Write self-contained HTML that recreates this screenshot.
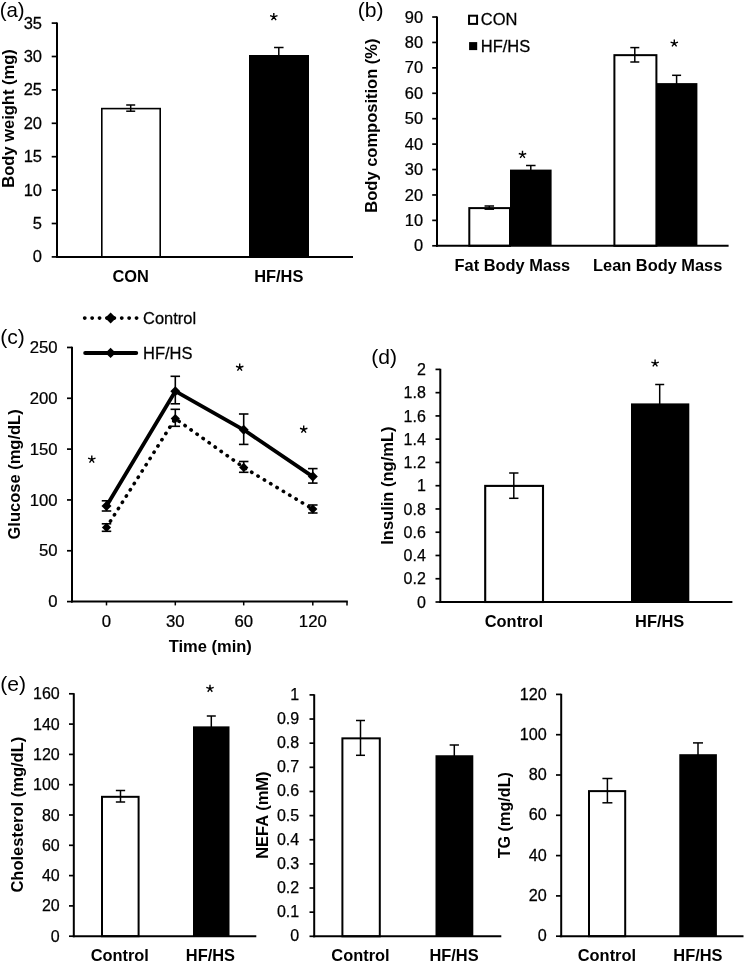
<!DOCTYPE html>
<html><head><meta charset="utf-8"><title>Figure</title>
<style>
html,body{margin:0;padding:0;background:#fff;}
body{width:745px;height:963px;overflow:hidden;font-family:"Liberation Sans",sans-serif;}
svg{display:block;will-change:transform;}
svg text{font-family:"Liberation Sans",sans-serif;}
</style></head><body>
<svg width="745" height="963" viewBox="0 0 745 963">
<rect width="745" height="963" fill="#fff"/>
<text x="-0.30" y="16.50" font-size="20.4" text-anchor="start" fill="#000">(a)</text>
<line x1="57.00" y1="22.50" x2="57.00" y2="257.90" stroke="#000" stroke-width="2" />
<line x1="51.70" y1="256.90" x2="57.00" y2="256.90" stroke="#000" stroke-width="1.7" />
<text font-size="16" text-anchor="end" stroke="#000" stroke-width="0.25" transform="translate(42.00 262.30) scale(1.03 1)" fill="#000">0</text>
<line x1="51.70" y1="223.50" x2="57.00" y2="223.50" stroke="#000" stroke-width="1.7" />
<text font-size="16" text-anchor="end" stroke="#000" stroke-width="0.25" transform="translate(42.00 228.90) scale(1.03 1)" fill="#000">5</text>
<line x1="51.70" y1="190.10" x2="57.00" y2="190.10" stroke="#000" stroke-width="1.7" />
<text font-size="16" text-anchor="end" stroke="#000" stroke-width="0.25" transform="translate(42.00 195.50) scale(1.03 1)" fill="#000">10</text>
<line x1="51.70" y1="156.70" x2="57.00" y2="156.70" stroke="#000" stroke-width="1.7" />
<text font-size="16" text-anchor="end" stroke="#000" stroke-width="0.25" transform="translate(42.00 162.10) scale(1.03 1)" fill="#000">15</text>
<line x1="51.70" y1="123.30" x2="57.00" y2="123.30" stroke="#000" stroke-width="1.7" />
<text font-size="16" text-anchor="end" stroke="#000" stroke-width="0.25" transform="translate(42.00 128.70) scale(1.03 1)" fill="#000">20</text>
<line x1="51.70" y1="89.90" x2="57.00" y2="89.90" stroke="#000" stroke-width="1.7" />
<text font-size="16" text-anchor="end" stroke="#000" stroke-width="0.25" transform="translate(42.00 95.30) scale(1.03 1)" fill="#000">25</text>
<line x1="51.70" y1="56.50" x2="57.00" y2="56.50" stroke="#000" stroke-width="1.7" />
<text font-size="16" text-anchor="end" stroke="#000" stroke-width="0.25" transform="translate(42.00 61.90) scale(1.03 1)" fill="#000">30</text>
<line x1="51.70" y1="23.10" x2="57.00" y2="23.10" stroke="#000" stroke-width="1.7" />
<text font-size="16" text-anchor="end" stroke="#000" stroke-width="0.25" transform="translate(42.00 28.50) scale(1.03 1)" fill="#000">35</text>
<rect x="101.80" y="108.60" width="58.40" height="148.30" fill="#fff" stroke="#000" stroke-width="1.6"/>
<rect x="249.00" y="55.00" width="60.00" height="201.90" fill="#000"/>
<line x1="56.00" y1="256.90" x2="353.00" y2="256.90" stroke="#000" stroke-width="2" />
<line x1="130.70" y1="105.00" x2="130.70" y2="111.20" stroke="#000" stroke-width="1.5" />
<line x1="126.20" y1="105.00" x2="135.20" y2="105.00" stroke="#000" stroke-width="1.5" />
<line x1="126.20" y1="111.20" x2="135.20" y2="111.20" stroke="#000" stroke-width="1.5" />
<line x1="278.80" y1="47.50" x2="278.80" y2="56.00" stroke="#000" stroke-width="1.5" />
<line x1="274.05" y1="47.50" x2="283.55" y2="47.50" stroke="#000" stroke-width="1.5" />
<path d="M273.80 16.90 L273.80 13.00 M273.80 16.90 L277.51 15.69 M273.80 16.90 L276.09 20.06 M273.80 16.90 L271.51 20.06 M273.80 16.90 L270.09 15.69" stroke="#000" stroke-width="1.4" fill="none"/>
<text x="130.70" y="281.80" font-size="16.4" text-anchor="middle" font-weight="bold" fill="#000">CON</text>
<text x="278.80" y="281.80" font-size="16.4" text-anchor="middle" font-weight="bold" fill="#000">HF/HS</text>
<text x="13.90" y="118.50" font-size="16.5" text-anchor="middle" font-weight="bold" transform="rotate(-90 13.90 118.50)" fill="#000">Body weight (mg)</text>
<text x="357.80" y="17.00" font-size="21.1" text-anchor="start" fill="#000">(b)</text>
<line x1="437.00" y1="16.42" x2="437.00" y2="246.80" stroke="#000" stroke-width="2" />
<line x1="432.20" y1="245.80" x2="437.00" y2="245.80" stroke="#000" stroke-width="1.7" />
<text font-size="16" text-anchor="end" stroke="#000" stroke-width="0.25" transform="translate(423.10 251.40) scale(1.025 1)" fill="#000">0</text>
<line x1="432.20" y1="220.38" x2="437.00" y2="220.38" stroke="#000" stroke-width="1.7" />
<text font-size="16" text-anchor="end" stroke="#000" stroke-width="0.25" transform="translate(423.10 225.98) scale(1.025 1)" fill="#000">10</text>
<line x1="432.20" y1="194.96" x2="437.00" y2="194.96" stroke="#000" stroke-width="1.7" />
<text font-size="16" text-anchor="end" stroke="#000" stroke-width="0.25" transform="translate(423.10 200.56) scale(1.025 1)" fill="#000">20</text>
<line x1="432.20" y1="169.54" x2="437.00" y2="169.54" stroke="#000" stroke-width="1.7" />
<text font-size="16" text-anchor="end" stroke="#000" stroke-width="0.25" transform="translate(423.10 175.14) scale(1.025 1)" fill="#000">30</text>
<line x1="432.20" y1="144.12" x2="437.00" y2="144.12" stroke="#000" stroke-width="1.7" />
<text font-size="16" text-anchor="end" stroke="#000" stroke-width="0.25" transform="translate(423.10 149.72) scale(1.025 1)" fill="#000">40</text>
<line x1="432.20" y1="118.70" x2="437.00" y2="118.70" stroke="#000" stroke-width="1.7" />
<text font-size="16" text-anchor="end" stroke="#000" stroke-width="0.25" transform="translate(423.10 124.30) scale(1.025 1)" fill="#000">50</text>
<line x1="432.20" y1="93.28" x2="437.00" y2="93.28" stroke="#000" stroke-width="1.7" />
<text font-size="16" text-anchor="end" stroke="#000" stroke-width="0.25" transform="translate(423.10 98.88) scale(1.025 1)" fill="#000">60</text>
<line x1="432.20" y1="67.86" x2="437.00" y2="67.86" stroke="#000" stroke-width="1.7" />
<text font-size="16" text-anchor="end" stroke="#000" stroke-width="0.25" transform="translate(423.10 73.46) scale(1.025 1)" fill="#000">70</text>
<line x1="432.20" y1="42.44" x2="437.00" y2="42.44" stroke="#000" stroke-width="1.7" />
<text font-size="16" text-anchor="end" stroke="#000" stroke-width="0.25" transform="translate(423.10 48.04) scale(1.025 1)" fill="#000">80</text>
<line x1="432.20" y1="17.02" x2="437.00" y2="17.02" stroke="#000" stroke-width="1.7" />
<text font-size="16" text-anchor="end" stroke="#000" stroke-width="0.25" transform="translate(423.10 22.62) scale(1.025 1)" fill="#000">90</text>
<rect x="469.30" y="208.10" width="40.70" height="37.70" fill="#fff" stroke="#000" stroke-width="2.0"/>
<rect x="510.00" y="169.60" width="41.60" height="76.20" fill="#000"/>
<rect x="614.40" y="55.15" width="42.00" height="190.65" fill="#fff" stroke="#000" stroke-width="2.0"/>
<rect x="656.40" y="83.11" width="41.00" height="162.69" fill="#000"/>
<line x1="436.00" y1="245.80" x2="728.60" y2="245.80" stroke="#000" stroke-width="2" />
<line x1="489.30" y1="206.00" x2="489.30" y2="209.20" stroke="#000" stroke-width="1.5" />
<line x1="484.55" y1="206.00" x2="494.05" y2="206.00" stroke="#000" stroke-width="1.5" />
<line x1="484.55" y1="209.20" x2="494.05" y2="209.20" stroke="#000" stroke-width="1.5" />
<line x1="530.80" y1="165.50" x2="530.80" y2="171.00" stroke="#000" stroke-width="1.5" />
<line x1="526.05" y1="165.50" x2="535.55" y2="165.50" stroke="#000" stroke-width="1.5" />
<line x1="634.80" y1="47.60" x2="634.80" y2="62.00" stroke="#000" stroke-width="1.5" />
<line x1="630.30" y1="47.60" x2="639.30" y2="47.60" stroke="#000" stroke-width="1.5" />
<line x1="630.30" y1="62.00" x2="639.30" y2="62.00" stroke="#000" stroke-width="1.5" />
<line x1="676.60" y1="75.30" x2="676.60" y2="84.00" stroke="#000" stroke-width="1.5" />
<line x1="672.10" y1="75.30" x2="681.10" y2="75.30" stroke="#000" stroke-width="1.5" />
<path d="M522.50 154.70 L522.50 150.80 M522.50 154.70 L526.21 153.49 M522.50 154.70 L524.79 157.86 M522.50 154.70 L520.21 157.86 M522.50 154.70 L518.79 153.49" stroke="#000" stroke-width="1.4" fill="none"/>
<path d="M674.30 43.30 L674.30 39.40 M674.30 43.30 L678.01 42.09 M674.30 43.30 L676.59 46.46 M674.30 43.30 L672.01 46.46 M674.30 43.30 L670.59 42.09" stroke="#000" stroke-width="1.4" fill="none"/>
<text x="512.40" y="270.70" font-size="16.4" text-anchor="middle" font-weight="bold" fill="#000">Fat Body Mass</text>
<text x="657.70" y="270.70" font-size="16.4" text-anchor="middle" font-weight="bold" fill="#000">Lean Body Mass</text>
<rect x="469.05" y="15.7" width="8" height="8.2" fill="#fff" stroke="#000" stroke-width="2"/>
<rect x="469.1" y="42.1" width="8.1" height="8" fill="#000"/>
<text font-size="16" text-anchor="start" stroke="#000" stroke-width="0.25" transform="translate(480.80 25.40) scale(1.03 1)" fill="#000">CON</text>
<text font-size="16" text-anchor="start" stroke="#000" stroke-width="0.25" transform="translate(480.80 51.70) scale(1.03 1)" fill="#000">HF/HS</text>
<text x="377.30" y="125.60" font-size="16.5" text-anchor="middle" font-weight="bold" transform="rotate(-90 377.30 125.60)" fill="#000">Body composition (%)</text>
<text x="0.20" y="344.40" font-size="21.1" text-anchor="start" fill="#000">(c)</text>
<line x1="72.00" y1="346.85" x2="72.00" y2="602.60" stroke="#000" stroke-width="2" />
<line x1="67.00" y1="601.60" x2="72.00" y2="601.60" stroke="#000" stroke-width="1.7" />
<text font-size="16" text-anchor="end" stroke="#000" stroke-width="0.25" transform="translate(57.60 607.20) scale(1.045 1)" fill="#000">0</text>
<line x1="67.00" y1="550.77" x2="72.00" y2="550.77" stroke="#000" stroke-width="1.7" />
<text font-size="16" text-anchor="end" stroke="#000" stroke-width="0.25" transform="translate(57.60 556.37) scale(1.045 1)" fill="#000">50</text>
<line x1="67.00" y1="499.94" x2="72.00" y2="499.94" stroke="#000" stroke-width="1.7" />
<text font-size="16" text-anchor="end" stroke="#000" stroke-width="0.25" transform="translate(57.60 505.54) scale(1.045 1)" fill="#000">100</text>
<line x1="67.00" y1="449.11" x2="72.00" y2="449.11" stroke="#000" stroke-width="1.7" />
<text font-size="16" text-anchor="end" stroke="#000" stroke-width="0.25" transform="translate(57.60 454.71) scale(1.045 1)" fill="#000">150</text>
<line x1="67.00" y1="398.28" x2="72.00" y2="398.28" stroke="#000" stroke-width="1.7" />
<text font-size="16" text-anchor="end" stroke="#000" stroke-width="0.25" transform="translate(57.60 403.88) scale(1.045 1)" fill="#000">200</text>
<line x1="67.00" y1="347.45" x2="72.00" y2="347.45" stroke="#000" stroke-width="1.7" />
<text font-size="16" text-anchor="end" stroke="#000" stroke-width="0.25" transform="translate(57.60 353.05) scale(1.045 1)" fill="#000">250</text>
<line x1="71.00" y1="601.60" x2="347.80" y2="601.60" stroke="#000" stroke-width="2" />
<line x1="106.50" y1="601.60" x2="106.50" y2="605.40" stroke="#000" stroke-width="1.5" />
<line x1="175.30" y1="601.60" x2="175.30" y2="605.40" stroke="#000" stroke-width="1.5" />
<line x1="243.70" y1="601.60" x2="243.70" y2="605.40" stroke="#000" stroke-width="1.5" />
<line x1="312.80" y1="601.60" x2="312.80" y2="605.40" stroke="#000" stroke-width="1.5" />
<line x1="347.00" y1="601.60" x2="347.00" y2="605.40" stroke="#000" stroke-width="1.5" />
<text font-size="16" text-anchor="middle" stroke="#000" stroke-width="0.25" transform="translate(106.50 627.00) scale(1.045 1)" fill="#000">0</text>
<text font-size="16" text-anchor="middle" stroke="#000" stroke-width="0.25" transform="translate(175.30 627.00) scale(1.045 1)" fill="#000">30</text>
<text font-size="16" text-anchor="middle" stroke="#000" stroke-width="0.25" transform="translate(243.70 627.00) scale(1.045 1)" fill="#000">60</text>
<text font-size="16" text-anchor="middle" stroke="#000" stroke-width="0.25" transform="translate(312.80 627.00) scale(1.045 1)" fill="#000">120</text>
<text x="210.30" y="652.20" font-size="16.5" text-anchor="middle" font-weight="bold" fill="#000">Time (min)</text>
<line x1="106.50" y1="500.80" x2="106.50" y2="511.00" stroke="#000" stroke-width="1.6" />
<line x1="101.75" y1="500.80" x2="111.25" y2="500.80" stroke="#000" stroke-width="1.6" />
<line x1="101.75" y1="511.00" x2="111.25" y2="511.00" stroke="#000" stroke-width="1.6" />
<line x1="175.30" y1="376.30" x2="175.30" y2="403.80" stroke="#000" stroke-width="1.6" />
<line x1="170.55" y1="376.30" x2="180.05" y2="376.30" stroke="#000" stroke-width="1.6" />
<line x1="170.55" y1="403.80" x2="180.05" y2="403.80" stroke="#000" stroke-width="1.6" />
<line x1="243.70" y1="414.00" x2="243.70" y2="444.40" stroke="#000" stroke-width="1.6" />
<line x1="238.95" y1="414.00" x2="248.45" y2="414.00" stroke="#000" stroke-width="1.6" />
<line x1="238.95" y1="444.40" x2="248.45" y2="444.40" stroke="#000" stroke-width="1.6" />
<line x1="312.80" y1="468.60" x2="312.80" y2="483.10" stroke="#000" stroke-width="1.6" />
<line x1="308.05" y1="468.60" x2="317.55" y2="468.60" stroke="#000" stroke-width="1.6" />
<line x1="308.05" y1="483.10" x2="317.55" y2="483.10" stroke="#000" stroke-width="1.6" />
<line x1="106.50" y1="523.80" x2="106.50" y2="531.30" stroke="#000" stroke-width="1.6" />
<line x1="101.75" y1="523.80" x2="111.25" y2="523.80" stroke="#000" stroke-width="1.6" />
<line x1="101.75" y1="531.30" x2="111.25" y2="531.30" stroke="#000" stroke-width="1.6" />
<line x1="175.30" y1="409.30" x2="175.30" y2="426.30" stroke="#000" stroke-width="1.6" />
<line x1="170.55" y1="409.30" x2="180.05" y2="409.30" stroke="#000" stroke-width="1.6" />
<line x1="170.55" y1="426.30" x2="180.05" y2="426.30" stroke="#000" stroke-width="1.6" />
<line x1="243.70" y1="461.50" x2="243.70" y2="472.30" stroke="#000" stroke-width="1.6" />
<line x1="238.95" y1="461.50" x2="248.45" y2="461.50" stroke="#000" stroke-width="1.6" />
<line x1="238.95" y1="472.30" x2="248.45" y2="472.30" stroke="#000" stroke-width="1.6" />
<line x1="312.80" y1="505.00" x2="312.80" y2="513.00" stroke="#000" stroke-width="1.6" />
<line x1="308.05" y1="505.00" x2="317.55" y2="505.00" stroke="#000" stroke-width="1.6" />
<line x1="308.05" y1="513.00" x2="317.55" y2="513.00" stroke="#000" stroke-width="1.6" />
<polyline points="106.50,527.39 175.30,418.61 243.70,467.41 312.80,509.09" fill="none" stroke="#000" stroke-width="3.6" stroke-dasharray="0.3 7.1" stroke-linecap="round" stroke-linejoin="round"/>
<polyline points="106.50,506.04 175.30,391.16 243.70,429.79 312.80,476.56" fill="none" stroke="#000" stroke-width="3.8" stroke-linejoin="round" stroke-linecap="round"/>
<path d="M101.50 506.04 L106.50 501.04 L111.50 506.04 L106.50 511.04 Z" fill="#000"/>
<path d="M170.30 391.16 L175.30 386.16 L180.30 391.16 L175.30 396.16 Z" fill="#000"/>
<path d="M238.70 429.79 L243.70 424.79 L248.70 429.79 L243.70 434.79 Z" fill="#000"/>
<path d="M307.80 476.56 L312.80 471.56 L317.80 476.56 L312.80 481.56 Z" fill="#000"/>
<path d="M101.90 527.39 L106.50 522.79 L111.10 527.39 L106.50 531.99 Z" fill="#000"/>
<path d="M170.70 418.61 L175.30 414.01 L179.90 418.61 L175.30 423.21 Z" fill="#000"/>
<path d="M239.10 467.41 L243.70 462.81 L248.30 467.41 L243.70 472.01 Z" fill="#000"/>
<path d="M308.20 509.09 L312.80 504.49 L317.40 509.09 L312.80 513.69 Z" fill="#000"/>
<path d="M91.80 459.40 L91.80 455.50 M91.80 459.40 L95.51 458.19 M91.80 459.40 L94.09 462.56 M91.80 459.40 L89.51 462.56 M91.80 459.40 L88.09 458.19" stroke="#000" stroke-width="1.4" fill="none"/>
<path d="M239.70 367.50 L239.70 363.60 M239.70 367.50 L243.41 366.29 M239.70 367.50 L241.99 370.66 M239.70 367.50 L237.41 370.66 M239.70 367.50 L235.99 366.29" stroke="#000" stroke-width="1.4" fill="none"/>
<path d="M303.70 429.50 L303.70 425.60 M303.70 429.50 L307.41 428.29 M303.70 429.50 L305.99 432.66 M303.70 429.50 L301.41 432.66 M303.70 429.50 L299.99 428.29" stroke="#000" stroke-width="1.4" fill="none"/>
<line x1="84.6" y1="318.1" x2="137" y2="318.1" stroke="#000" stroke-width="3.6" stroke-dasharray="0.3 7.1" stroke-linecap="round"/>
<path d="M105.10 318.10 L110.60 312.60 L116.10 318.10 L110.60 323.60 Z" fill="#000"/>
<line x1="85.2" y1="352.9" x2="136.2" y2="352.9" stroke="#000" stroke-width="4" stroke-linecap="round"/>
<path d="M105.40 352.90 L110.60 347.70 L115.80 352.90 L110.60 358.10 Z" fill="#000"/>
<text font-size="16" text-anchor="start" stroke="#000" stroke-width="0.25" transform="translate(143.00 323.80) scale(1.03 1)" fill="#000">Control</text>
<text font-size="16" text-anchor="start" stroke="#000" stroke-width="0.25" transform="translate(143.00 358.60) scale(1.03 1)" fill="#000">HF/HS</text>
<text x="20.30" y="474.40" font-size="16.5" text-anchor="middle" font-weight="bold" transform="rotate(-90 20.30 474.40)" fill="#000">Glucose (mg/dL)</text>
<text x="371.20" y="364.40" font-size="21.1" text-anchor="start" fill="#000">(d)</text>
<line x1="440.30" y1="368.80" x2="440.30" y2="603.00" stroke="#000" stroke-width="2" />
<line x1="435.50" y1="602.00" x2="440.30" y2="602.00" stroke="#000" stroke-width="1.7" />
<text font-size="16" text-anchor="end" stroke="#000" stroke-width="0.25" transform="translate(425.80 607.60) scale(1.0 1)" fill="#000">0</text>
<line x1="435.50" y1="578.74" x2="440.30" y2="578.74" stroke="#000" stroke-width="1.7" />
<text font-size="16" text-anchor="end" stroke="#000" stroke-width="0.25" transform="translate(425.80 584.34) scale(1.0 1)" fill="#000">0.2</text>
<line x1="435.50" y1="555.48" x2="440.30" y2="555.48" stroke="#000" stroke-width="1.7" />
<text font-size="16" text-anchor="end" stroke="#000" stroke-width="0.25" transform="translate(425.80 561.08) scale(1.0 1)" fill="#000">0.4</text>
<line x1="435.50" y1="532.22" x2="440.30" y2="532.22" stroke="#000" stroke-width="1.7" />
<text font-size="16" text-anchor="end" stroke="#000" stroke-width="0.25" transform="translate(425.80 537.82) scale(1.0 1)" fill="#000">0.6</text>
<line x1="435.50" y1="508.96" x2="440.30" y2="508.96" stroke="#000" stroke-width="1.7" />
<text font-size="16" text-anchor="end" stroke="#000" stroke-width="0.25" transform="translate(425.80 514.56) scale(1.0 1)" fill="#000">0.8</text>
<line x1="435.50" y1="485.70" x2="440.30" y2="485.70" stroke="#000" stroke-width="1.7" />
<text font-size="16" text-anchor="end" stroke="#000" stroke-width="0.25" transform="translate(425.80 491.30) scale(1.0 1)" fill="#000">1</text>
<line x1="435.50" y1="462.44" x2="440.30" y2="462.44" stroke="#000" stroke-width="1.7" />
<text font-size="16" text-anchor="end" stroke="#000" stroke-width="0.25" transform="translate(425.80 468.04) scale(1.0 1)" fill="#000">1.2</text>
<line x1="435.50" y1="439.18" x2="440.30" y2="439.18" stroke="#000" stroke-width="1.7" />
<text font-size="16" text-anchor="end" stroke="#000" stroke-width="0.25" transform="translate(425.80 444.78) scale(1.0 1)" fill="#000">1.4</text>
<line x1="435.50" y1="415.92" x2="440.30" y2="415.92" stroke="#000" stroke-width="1.7" />
<text font-size="16" text-anchor="end" stroke="#000" stroke-width="0.25" transform="translate(425.80 421.52) scale(1.0 1)" fill="#000">1.6</text>
<line x1="435.50" y1="392.66" x2="440.30" y2="392.66" stroke="#000" stroke-width="1.7" />
<text font-size="16" text-anchor="end" stroke="#000" stroke-width="0.25" transform="translate(425.80 398.26) scale(1.0 1)" fill="#000">1.8</text>
<line x1="435.50" y1="369.40" x2="440.30" y2="369.40" stroke="#000" stroke-width="1.7" />
<text font-size="16" text-anchor="end" stroke="#000" stroke-width="0.25" transform="translate(425.80 375.00) scale(1.0 1)" fill="#000">2</text>
<rect x="485.20" y="485.90" width="57.80" height="116.10" fill="#fff" stroke="#000" stroke-width="2.1"/>
<rect x="631.00" y="403.40" width="58.30" height="198.60" fill="#000"/>
<line x1="439.30" y1="602.00" x2="732.40" y2="602.00" stroke="#000" stroke-width="2" />
<line x1="513.80" y1="473.00" x2="513.80" y2="498.30" stroke="#000" stroke-width="1.5" />
<line x1="509.15" y1="473.00" x2="518.45" y2="473.00" stroke="#000" stroke-width="1.5" />
<line x1="509.15" y1="498.30" x2="518.45" y2="498.30" stroke="#000" stroke-width="1.5" />
<line x1="659.70" y1="384.50" x2="659.70" y2="404.00" stroke="#000" stroke-width="1.5" />
<line x1="655.20" y1="384.50" x2="664.20" y2="384.50" stroke="#000" stroke-width="1.5" />
<path d="M655.10 363.30 L655.10 359.40 M655.10 363.30 L658.81 362.09 M655.10 363.30 L657.39 366.46 M655.10 363.30 L652.81 366.46 M655.10 363.30 L651.39 362.09" stroke="#000" stroke-width="1.4" fill="none"/>
<text x="513.90" y="627.40" font-size="16.4" text-anchor="middle" font-weight="bold" fill="#000">Control</text>
<text x="659.70" y="627.40" font-size="16.4" text-anchor="middle" font-weight="bold" fill="#000">HF/HS</text>
<text x="393.30" y="485.60" font-size="16.5" text-anchor="middle" font-weight="bold" transform="rotate(-90 393.30 485.60)" fill="#000">Insulin (ng/mL)</text>
<text x="0.20" y="691.00" font-size="21.1" text-anchor="start" fill="#000">(e)</text>
<line x1="73.80" y1="693.20" x2="73.80" y2="937.20" stroke="#000" stroke-width="2" />
<line x1="69.00" y1="936.20" x2="73.80" y2="936.20" stroke="#000" stroke-width="1.7" />
<text font-size="16" text-anchor="end" stroke="#000" stroke-width="0.25" transform="translate(59.70 941.70) scale(1.0 1)" fill="#000">0</text>
<line x1="69.00" y1="905.90" x2="73.80" y2="905.90" stroke="#000" stroke-width="1.7" />
<text font-size="16" text-anchor="end" stroke="#000" stroke-width="0.25" transform="translate(59.70 911.40) scale(1.0 1)" fill="#000">20</text>
<line x1="69.00" y1="875.60" x2="73.80" y2="875.60" stroke="#000" stroke-width="1.7" />
<text font-size="16" text-anchor="end" stroke="#000" stroke-width="0.25" transform="translate(59.70 881.10) scale(1.0 1)" fill="#000">40</text>
<line x1="69.00" y1="845.30" x2="73.80" y2="845.30" stroke="#000" stroke-width="1.7" />
<text font-size="16" text-anchor="end" stroke="#000" stroke-width="0.25" transform="translate(59.70 850.80) scale(1.0 1)" fill="#000">60</text>
<line x1="69.00" y1="815.00" x2="73.80" y2="815.00" stroke="#000" stroke-width="1.7" />
<text font-size="16" text-anchor="end" stroke="#000" stroke-width="0.25" transform="translate(59.70 820.50) scale(1.0 1)" fill="#000">80</text>
<line x1="69.00" y1="784.70" x2="73.80" y2="784.70" stroke="#000" stroke-width="1.7" />
<text font-size="16" text-anchor="end" stroke="#000" stroke-width="0.25" transform="translate(59.70 790.20) scale(1.0 1)" fill="#000">100</text>
<line x1="69.00" y1="754.40" x2="73.80" y2="754.40" stroke="#000" stroke-width="1.7" />
<text font-size="16" text-anchor="end" stroke="#000" stroke-width="0.25" transform="translate(59.70 759.90) scale(1.0 1)" fill="#000">120</text>
<line x1="69.00" y1="724.10" x2="73.80" y2="724.10" stroke="#000" stroke-width="1.7" />
<text font-size="16" text-anchor="end" stroke="#000" stroke-width="0.25" transform="translate(59.70 729.60) scale(1.0 1)" fill="#000">140</text>
<line x1="69.00" y1="693.80" x2="73.80" y2="693.80" stroke="#000" stroke-width="1.7" />
<text font-size="16" text-anchor="end" stroke="#000" stroke-width="0.25" transform="translate(59.70 699.30) scale(1.0 1)" fill="#000">160</text>
<rect x="102.00" y="796.82" width="36.60" height="139.38" fill="#fff" stroke="#000" stroke-width="2.0"/>
<rect x="193.00" y="726.37" width="36.50" height="209.83" fill="#000"/>
<line x1="72.80" y1="936.20" x2="256.30" y2="936.20" stroke="#000" stroke-width="2" />
<line x1="120.50" y1="790.50" x2="120.50" y2="802.00" stroke="#000" stroke-width="1.5" />
<line x1="115.85" y1="790.50" x2="125.15" y2="790.50" stroke="#000" stroke-width="1.5" />
<line x1="115.85" y1="802.00" x2="125.15" y2="802.00" stroke="#000" stroke-width="1.5" />
<line x1="211.30" y1="716.00" x2="211.30" y2="727.00" stroke="#000" stroke-width="1.5" />
<line x1="206.80" y1="716.00" x2="215.80" y2="716.00" stroke="#000" stroke-width="1.5" />
<path d="M210.00 688.60 L210.00 684.70 M210.00 688.60 L213.71 687.39 M210.00 688.60 L212.29 691.76 M210.00 688.60 L207.71 691.76 M210.00 688.60 L206.29 687.39" stroke="#000" stroke-width="1.4" fill="none"/>
<text x="119.80" y="961.00" font-size="16.4" text-anchor="middle" font-weight="bold" fill="#000">Control</text>
<text x="210.40" y="961.00" font-size="16.4" text-anchor="middle" font-weight="bold" fill="#000">HF/HS</text>
<text x="23.10" y="814.70" font-size="16.5" text-anchor="middle" font-weight="bold" transform="rotate(-90 23.10 814.70)" fill="#000">Cholesterol (mg/dL)</text>
<line x1="314.20" y1="694.30" x2="314.20" y2="937.30" stroke="#000" stroke-width="2" />
<line x1="309.50" y1="936.30" x2="314.20" y2="936.30" stroke="#000" stroke-width="1.7" />
<text font-size="16" text-anchor="end" stroke="#000" stroke-width="0.25" transform="translate(299.20 941.20) scale(1.0 1)" fill="#000">0</text>
<line x1="309.50" y1="912.16" x2="314.20" y2="912.16" stroke="#000" stroke-width="1.7" />
<text font-size="16" text-anchor="end" stroke="#000" stroke-width="0.25" transform="translate(299.20 917.06) scale(1.0 1)" fill="#000">0.1</text>
<line x1="309.50" y1="888.02" x2="314.20" y2="888.02" stroke="#000" stroke-width="1.7" />
<text font-size="16" text-anchor="end" stroke="#000" stroke-width="0.25" transform="translate(299.20 892.92) scale(1.0 1)" fill="#000">0.2</text>
<line x1="309.50" y1="863.88" x2="314.20" y2="863.88" stroke="#000" stroke-width="1.7" />
<text font-size="16" text-anchor="end" stroke="#000" stroke-width="0.25" transform="translate(299.20 868.78) scale(1.0 1)" fill="#000">0.3</text>
<line x1="309.50" y1="839.74" x2="314.20" y2="839.74" stroke="#000" stroke-width="1.7" />
<text font-size="16" text-anchor="end" stroke="#000" stroke-width="0.25" transform="translate(299.20 844.64) scale(1.0 1)" fill="#000">0.4</text>
<line x1="309.50" y1="815.60" x2="314.20" y2="815.60" stroke="#000" stroke-width="1.7" />
<text font-size="16" text-anchor="end" stroke="#000" stroke-width="0.25" transform="translate(299.20 820.50) scale(1.0 1)" fill="#000">0.5</text>
<line x1="309.50" y1="791.46" x2="314.20" y2="791.46" stroke="#000" stroke-width="1.7" />
<text font-size="16" text-anchor="end" stroke="#000" stroke-width="0.25" transform="translate(299.20 796.36) scale(1.0 1)" fill="#000">0.6</text>
<line x1="309.50" y1="767.32" x2="314.20" y2="767.32" stroke="#000" stroke-width="1.7" />
<text font-size="16" text-anchor="end" stroke="#000" stroke-width="0.25" transform="translate(299.20 772.22) scale(1.0 1)" fill="#000">0.7</text>
<line x1="309.50" y1="743.18" x2="314.20" y2="743.18" stroke="#000" stroke-width="1.7" />
<text font-size="16" text-anchor="end" stroke="#000" stroke-width="0.25" transform="translate(299.20 748.08) scale(1.0 1)" fill="#000">0.8</text>
<line x1="309.50" y1="719.04" x2="314.20" y2="719.04" stroke="#000" stroke-width="1.7" />
<text font-size="16" text-anchor="end" stroke="#000" stroke-width="0.25" transform="translate(299.20 723.94) scale(1.0 1)" fill="#000">0.9</text>
<line x1="309.50" y1="694.90" x2="314.20" y2="694.90" stroke="#000" stroke-width="1.7" />
<text font-size="16" text-anchor="end" stroke="#000" stroke-width="0.25" transform="translate(299.20 699.80) scale(1.0 1)" fill="#000">1</text>
<rect x="342.40" y="738.35" width="37.40" height="197.95" fill="#fff" stroke="#000" stroke-width="2.0"/>
<rect x="435.50" y="755.25" width="37.80" height="181.05" fill="#000"/>
<line x1="313.30" y1="936.30" x2="501.30" y2="936.30" stroke="#000" stroke-width="2" />
<line x1="360.50" y1="720.50" x2="360.50" y2="755.30" stroke="#000" stroke-width="1.5" />
<line x1="356.00" y1="720.50" x2="365.00" y2="720.50" stroke="#000" stroke-width="1.5" />
<line x1="356.00" y1="755.30" x2="365.00" y2="755.30" stroke="#000" stroke-width="1.5" />
<line x1="454.30" y1="745.00" x2="454.30" y2="756.00" stroke="#000" stroke-width="1.5" />
<line x1="449.65" y1="745.00" x2="458.95" y2="745.00" stroke="#000" stroke-width="1.5" />
<text x="360.50" y="961.00" font-size="16.4" text-anchor="middle" font-weight="bold" fill="#000">Control</text>
<text x="454.00" y="961.00" font-size="16.4" text-anchor="middle" font-weight="bold" fill="#000">HF/HS</text>
<text x="267.60" y="815.10" font-size="16.5" text-anchor="middle" font-weight="bold" transform="rotate(-90 267.60 815.10)" fill="#000">NEFA (mM)</text>
<line x1="561.20" y1="693.80" x2="561.20" y2="937.20" stroke="#000" stroke-width="2" />
<line x1="556.00" y1="936.20" x2="561.20" y2="936.20" stroke="#000" stroke-width="1.7" />
<text font-size="16" text-anchor="end" stroke="#000" stroke-width="0.25" transform="translate(546.70 941.30) scale(1.01 1)" fill="#000">0</text>
<line x1="556.00" y1="895.90" x2="561.20" y2="895.90" stroke="#000" stroke-width="1.7" />
<text font-size="16" text-anchor="end" stroke="#000" stroke-width="0.25" transform="translate(546.70 901.00) scale(1.01 1)" fill="#000">20</text>
<line x1="556.00" y1="855.60" x2="561.20" y2="855.60" stroke="#000" stroke-width="1.7" />
<text font-size="16" text-anchor="end" stroke="#000" stroke-width="0.25" transform="translate(546.70 860.70) scale(1.01 1)" fill="#000">40</text>
<line x1="556.00" y1="815.30" x2="561.20" y2="815.30" stroke="#000" stroke-width="1.7" />
<text font-size="16" text-anchor="end" stroke="#000" stroke-width="0.25" transform="translate(546.70 820.40) scale(1.01 1)" fill="#000">60</text>
<line x1="556.00" y1="775.00" x2="561.20" y2="775.00" stroke="#000" stroke-width="1.7" />
<text font-size="16" text-anchor="end" stroke="#000" stroke-width="0.25" transform="translate(546.70 780.10) scale(1.01 1)" fill="#000">80</text>
<line x1="556.00" y1="734.70" x2="561.20" y2="734.70" stroke="#000" stroke-width="1.7" />
<text font-size="16" text-anchor="end" stroke="#000" stroke-width="0.25" transform="translate(546.70 739.80) scale(1.01 1)" fill="#000">100</text>
<line x1="556.00" y1="694.40" x2="561.20" y2="694.40" stroke="#000" stroke-width="1.7" />
<text font-size="16" text-anchor="end" stroke="#000" stroke-width="0.25" transform="translate(546.70 699.50) scale(1.01 1)" fill="#000">120</text>
<rect x="589.00" y="791.12" width="36.20" height="145.08" fill="#fff" stroke="#000" stroke-width="2.0"/>
<rect x="679.30" y="754.20" width="37.60" height="182.00" fill="#000"/>
<line x1="559.80" y1="936.20" x2="743.50" y2="936.20" stroke="#000" stroke-width="2" />
<line x1="607.40" y1="778.50" x2="607.40" y2="802.80" stroke="#000" stroke-width="1.5" />
<line x1="602.40" y1="778.50" x2="612.40" y2="778.50" stroke="#000" stroke-width="1.5" />
<line x1="602.40" y1="802.80" x2="612.40" y2="802.80" stroke="#000" stroke-width="1.5" />
<line x1="698.00" y1="742.90" x2="698.00" y2="755.50" stroke="#000" stroke-width="1.5" />
<line x1="693.00" y1="742.90" x2="703.00" y2="742.90" stroke="#000" stroke-width="1.5" />
<text x="606.90" y="961.00" font-size="16.4" text-anchor="middle" font-weight="bold" fill="#000">Control</text>
<text x="697.90" y="961.00" font-size="16.4" text-anchor="middle" font-weight="bold" fill="#000">HF/HS</text>
<text x="509.90" y="815.20" font-size="16.2" text-anchor="middle" font-weight="bold" transform="rotate(-90 509.90 815.20)" fill="#000">TG (mg/dL)</text>
</svg>
</body></html>
